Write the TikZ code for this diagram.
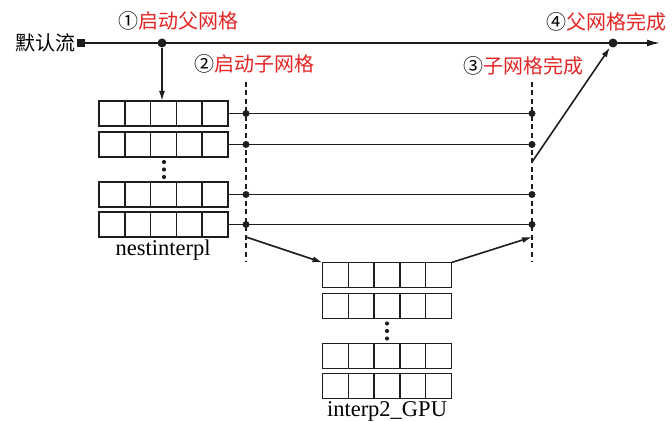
\documentclass[tikz,border=0pt]{standalone}
\usepackage{fontspec}
\setmainfont{Liberation Serif}
\newfontfamily\cjk{Noto Sans CJK SC}
\usetikzlibrary{arrows.meta}
\definecolor{lblred}{RGB}{228,36,36}
\definecolor{ink}{RGB}{30,30,30}
\begin{document}
\begin{tikzpicture}[x=1pt,y=-1pt,
  line width=1.6pt, draw=ink,
  rowbox/.style={draw=ink, line width=1.6pt, minimum width=129pt, minimum height=25pt, inner sep=0pt, outer sep=0pt,
    path picture={\foreach \i in {1,...,4}{\draw[line width=1.5pt,ink] ([xshift=\i*25.8pt]path picture bounding box.south west) -- ([xshift=\i*25.8pt]path picture bounding box.north west);}}},
  bigdot/.style={fill=ink, circle, inner sep=0pt, minimum size=9pt},
  smalldot/.style={fill=ink, circle, inner sep=0pt, minimum size=7pt},
  vdash/.style={line width=1.4pt, dash pattern=on 5pt off 3.5pt},
  arr/.style={-{Latex[length=10pt,width=6pt]}},
  cn/.style={font=\cjk\fontsize{20}{22}\selectfont, inner sep=0pt},
  lat/.style={font=\fontsize{22.5}{24}\selectfont, inner sep=0pt},
  vdots/.style={fill=ink, circle, inner sep=0pt, minimum size=4.2pt}
]
\useasboundingbox (0,0) rectangle (672,422);

% main stream
\node[fill=ink, minimum size=8pt, inner sep=0pt] (sq) at (81,43) {};
\node[cn, anchor=east] (ml) at (76,43) {默认流};
\coordinate (p1) at (162,43);
\coordinate (p4) at (613,43);
\coordinate (mend) at (660,43);
\draw[-{Latex[length=13pt,width=7pt]}] (sq.center) -- (mend);
\node[bigdot] (d1) at (p1) {};
\node[bigdot] (d4) at (p4) {};

% labels
\node[cn] (l1) at (178,21) {①\textcolor{lblred}{启动父网格}};
\node[cn] (l2) at (254,64) {②\textcolor{lblred}{启动子网格}};
\node[cn] (l3) at (523,66) {③\textcolor{lblred}{子网格完成}};
\node[cn] (l4) at (606,22) {④\textcolor{lblred}{父网格完成}};

% nestinterpl rows
\node[rowbox] (n1) at (163.5,113.5) {};
\node[rowbox] (n2) at (163.5,144.5) {};
\node[rowbox] (n3) at (163.5,194.5) {};
\node[rowbox] (n4) at (163.5,224.5) {};
\node[vdots] (nv1) at (164,162) {};
\node[vdots] (nv2) at (164,169.5) {};
\node[vdots] (nv3) at (164,177) {};
\node[lat] (nl) at (163,250) {nestinterpl};

\draw[arr] (d1) -- (p1 |- n1.north);

% dashed lines
\coordinate (dLt) at (246,82);
\coordinate (dLb) at (246,262);
\coordinate (dRt) at (532,82);
\coordinate (dRb) at (532,262);
\draw[vdash] (dLt) -- (dLb);
\draw[vdash] (dRt) -- (dRb);

% row lines with dots
\foreach \n in {n1,n2,n3,n4}{
  \draw (\n.east) -- (\n.east -| dRt);
  \node[smalldot] at (\n.east -| dLt) {};
  \node[smalldot] at (\n.east -| dRt) {};
}

% interp2_GPU rows
\node[rowbox] (g1) at (387,275) {};
\node[rowbox] (g2) at (387,306) {};
\node[rowbox] (g3) at (387,356) {};
\node[rowbox] (g4) at (387,386) {};
\node[vdots] (gv1) at (387,323.5) {};
\node[vdots] (gv2) at (387,331) {};
\node[vdots] (gv3) at (387,338.5) {};
\node[lat] (gl) at (387,411) {interp2\_GPU};

% connectors
\coordinate (aL) at (246,237);
\coordinate (aR) at (532,237);
\coordinate (a3) at (532,162);
\draw[arr] (aL) -- (g1.north west);
\draw[arr] (g1.north east) -- (aR);
\draw[arr] (a3) -- (d4);
\end{tikzpicture}
\end{document}
